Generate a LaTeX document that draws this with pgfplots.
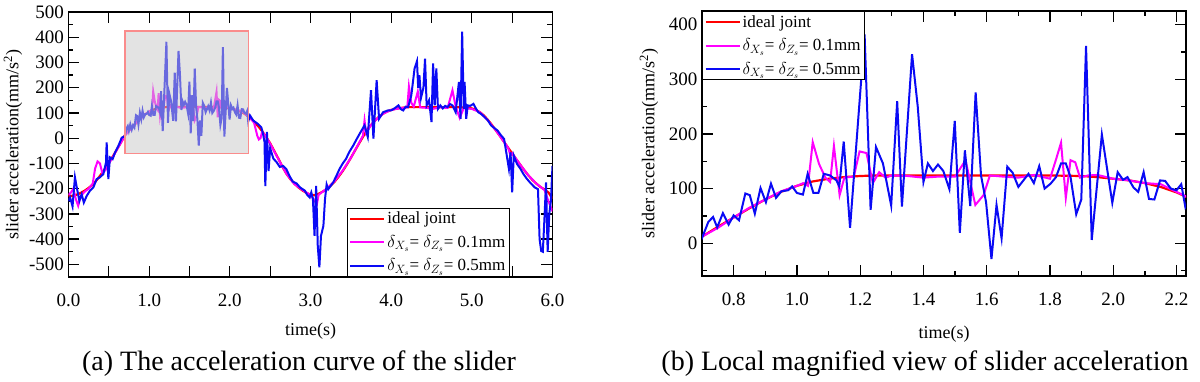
\documentclass[border=0pt]{standalone}
\usepackage{pgfplots}
\pgfplotsset{compat=1.18}
\usepackage{pgfplotstable}
\usepackage{fontspec}
\setmainfont{Liberation Serif}

\definecolor{idealred}{RGB}{255,0,0}
\definecolor{magline}{RGB}{255,0,255}
\definecolor{blueline}{RGB}{10,10,245}
\definecolor{boxedge}{RGB}{250,140,140}
\definecolor{boxfill}{RGB}{200,200,200}

\pgfplotstableread{
t v
0.00 -230
0.05 -228
0.10 -224
0.15 -217
0.20 -208
0.25 -197
0.30 -184
0.35 -166
0.40 -145
0.45 -122
0.50 -98
0.55 -72
0.60 -45
0.65 -17
0.70 12
0.75 30
0.80 47
0.85 64
0.90 80
0.95 94
1.00 105
1.05 113
1.10 118
1.15 121
1.20 123
1.25 124
1.30 124
1.40 124
1.50 124
1.60 124
1.70 124
1.80 124
1.90 123
1.95 121
2.00 118
2.05 115
2.10 110
2.15 103
2.20 93
2.25 80
2.30 65
2.35 48
2.40 28
2.45 5
2.50 -20
2.55 -50
2.60 -80
2.65 -112
2.70 -140
2.75 -162
2.80 -180
2.85 -195
2.90 -207
2.95 -217
3.00 -224
3.05 -226
3.10 -220
3.15 -212
3.20 -202
3.25 -188
3.30 -172
3.35 -152
3.40 -130
3.45 -105
3.50 -78
3.55 -50
3.60 -22
3.65 5
3.70 32
3.75 52
3.80 70
3.85 85
3.90 97
3.95 106
4.00 112
4.05 116
4.10 119
4.15 121
4.20 123
4.40 123
4.60 123
4.80 123
4.95 121
5.00 118
5.05 112
5.10 103
5.15 90
5.20 72
5.25 52
5.30 30
5.35 8
5.40 -15
5.45 -38
5.50 -60
5.55 -83
5.60 -105
5.65 -127
5.70 -147
5.75 -165
5.80 -180
5.85 -193
5.90 -203
5.95 -215
6.00 -240
}\idealtab

\pgfplotstableread{
t v
0.00 -225
0.03 -215
0.06 -200
0.09 -240
0.12 -268
0.15 -230
0.20 -212
0.25 -200
0.30 -180
0.33 -120
0.36 -92
0.39 -100
0.42 -140
0.46 -125
0.50 -100
0.55 -75
0.60 -45
0.65 -18
0.70 12
0.75 28
0.80 47
0.85 65
0.90 80
0.95 95
1.00 105
1.02 110
1.035 105
1.05 185
1.07 145
1.09 120
1.105 112
1.117 178
1.135 88
1.15 120
1.18 122
1.198 168
1.22 165
1.24 110
1.26 130
1.28 120
1.30 124
1.35 123
1.40 120
1.45 122
1.50 122
1.533 152
1.564 70
1.59 88
1.61 124
1.65 122
1.70 120
1.75 125
1.80 118
1.82 155
1.835 184
1.85 83
1.865 152
1.88 148
1.895 120
1.92 124
1.95 125
2.00 118
2.05 115
2.10 110
2.15 108
2.20 94
2.25 80
2.30 62
2.34 10
2.36 -5
2.38 0
2.40 25
2.45 5
2.50 -22
2.60 -82
2.70 -140
2.80 -182
2.90 -205
3.00 -225
3.05 -248
3.08 -260
3.10 -225
3.15 -212
3.20 -200
3.30 -170
3.40 -128
3.50 -78
3.60 -20
3.65 10
3.67 70
3.69 20
3.75 52
3.80 70
3.90 97
4.00 112
4.10 118
4.20 122
4.22 205
4.25 140
4.28 125
4.33 185
4.36 122
4.45 120
4.50 115
4.60 122
4.70 120
4.76 190
4.80 125
4.85 80
4.90 120
5.00 116
5.10 103
5.20 70
5.30 30
5.40 -15
5.45 -38
5.48 -70
5.50 -60
5.60 -105
5.70 -147
5.80 -180
5.90 -205
5.95 -250
6.00 -290
}\magtab

\pgfplotstableread{
t v
0.00 -250
0.02 -235
0.05 -270
0.08 -155
0.11 -208
0.135 -248
0.163 -222
0.19 -255
0.225 -229
0.266 -208
0.308 -195
0.349 -162
0.39 -155
0.432 -142
0.465 -96
0.473 -17
0.494 -162
0.514 -76
0.547 -83
0.576 -57
0.618 -31
0.66 2
0.699 8
0.72 39
0.735 48
0.748 29
0.766 55
0.784 34
0.80 51
0.817 42
0.837 91
0.851 88
0.867 54
0.885 101
0.902 75
0.918 109
0.934 83
0.951 95
0.973 97
0.985 104
1.00 92
1.019 89
1.034 127
1.052 92
1.068 92
1.085 127
1.105 124
1.125 115
1.134 104
1.148 186
1.168 28
1.214 382
1.233 61
1.25 176
1.272 146
1.298 69
1.317 260
1.332 67
1.364 346
1.382 250
1.40 112
1.414 146
1.43 132
1.446 144
1.463 132
1.482 99
1.499 224
1.515 19
1.531 170
1.548 68
1.565 276
1.582 124
1.598 75
1.615 -29
1.631 70
1.647 9
1.665 140
1.682 129
1.70 103
1.716 115
1.732 127
1.749 110
1.766 141
1.783 100
1.802 109
1.819 121
1.835 146
1.85 146
1.865 121
1.883 53
1.899 80
1.914 361
1.932 6
1.964 199
1.997 74
2.014 130
2.031 116
2.045 121
2.064 102
2.079 94
2.096 130
2.113 81
2.130 80
2.148 115
2.164 114
2.182 100
2.20 97
2.215 108
2.228 66
2.25 90
2.29 70
2.35 56
2.39 43
2.41 20
2.43 -15
2.44 -190
2.46 25
2.48 -130
2.50 -40
2.54 -81
2.58 -95
2.62 -114
2.66 -110
2.70 -122
2.74 -150
2.78 -172
2.83 -180
2.87 -195
2.93 -208
2.96 -225
2.99 -235
3.01 -215
3.03 -240
3.05 -387
3.07 -189
3.09 -426
3.11 -512
3.13 -387
3.16 -347
3.18 -241
3.20 -183
3.22 -202
3.28 -176
3.32 -150
3.36 -122
3.40 -100
3.44 -82
3.48 -55
3.53 -29
3.57 -5
3.61 18
3.65 40
3.67 51
3.71 5
3.75 190
3.78 -2
3.82 230
3.85 77
3.90 103
3.96 110
4.00 110
4.05 120
4.09 130
4.12 115
4.15 110
4.18 125
4.21 123
4.25 170
4.29 276
4.32 305
4.335 200
4.35 250
4.37 160
4.40 200
4.42 315
4.44 130
4.47 150
4.50 64
4.52 296
4.54 130
4.56 276
4.58 116
4.61 130
4.64 118
4.67 128
4.70 123
4.73 135
4.76 130
4.80 103
4.84 223
4.86 77
4.88 422
4.90 116
4.91 223
4.93 77
4.95 130
4.98 128
5.02 136
5.05 118
5.08 103
5.12 95
5.16 83
5.20 70
5.24 50
5.28 40
5.32 30
5.36 12
5.40 -3
5.44 -82
5.46 -122
5.48 -56
5.50 -215
5.52 -69
5.56 -102
5.60 -120
5.64 -142
5.68 -160
5.72 -175
5.78 -195
5.82 -202
5.84 -400
5.86 -447
5.88 -450
5.90 -320
5.92 -175
5.94 -450
5.96 -300
5.98 -250
6.00 -110
}\bluetab

\pgfplotsset{
  myaxis/.style={
    scale only axis,
    axis line style={line width=1.6pt},
    every tick/.style={line width=1.3pt, black},
    tick align=inside,
    major tick length=11pt,
    minor tick length=5pt,
    tick label style={font=\fontsize{19}{19}\selectfont},
    label style={font=\fontsize{18}{18}\selectfont},
    xticklabel style={yshift=-13pt},
    yticklabel style={xshift=-1pt},
    legend cell align=left,
    legend style={draw=black, line width=1.2pt, fill=white,
      font=\fontsize{17}{19}\selectfont, inner sep=2pt, row sep=6pt},
    legend image code/.code={\draw[#1, line width=2pt] (0pt,0pt) -- (34pt,0pt);},
    clip=true,
  },
  ideal/.style={idealred, line width=2.2pt},
  mag/.style={magline, line width=2pt},
  blu/.style={blueline, line width=2pt},
}

\begin{document}
\begin{tikzpicture}
\useasboundingbox (0,0) rectangle (1200pt,381pt);

% (a) full curve
\begin{axis}[myaxis,
  at={(68.5pt,104pt)}, anchor=south west,
  width=484pt, height=265pt,
  xmin=0, xmax=6, ymin=-550, ymax=500,
  xtick={0,0.5,1,1.5,2,2.5,3,3.5,4,4.5,5,5.5,6},
  xticklabels={0.0,{},1.0,{},2.0,{},3.0,{},4.0,{},5.0,{},6.0},
  ytick={-500,-400,-300,-200,-100,0,100,200,300,400,500},
  yticklabels={-500,-400,-300,-200,-100,0,100,200,300,400,500},
  minor ytick={-450,-350,-250,-150,-50,50,150,250,350,450},
  xlabel={time(s)},
  ylabel={slider acceleration(mm/s\textsuperscript{2})},
  xlabel style={yshift=-10pt},
  legend style={at={(rel axis cs:0.575,0)}, anchor=south west},
]
\addplot[ideal] table[x=t,y=v] {\idealtab};
\addlegendentry{ideal joint}
\addplot[mag] table[x=t,y=v] {\magtab};
\addlegendentry{$\delta_{X_s}$= $\delta_{Z_s}$= 0.1mm}
\addplot[blu] table[x=t,y=v] {\bluetab};
\addlegendentry{$\delta_{X_s}$= $\delta_{Z_s}$= 0.5mm}
\addplot[draw=boxedge, line width=1.5pt, fill=boxfill, fill opacity=0.5, forget plot]
  coordinates {(0.7,-60) (2.23,-60) (2.23,425) (0.7,425)} -- cycle;
\end{axis}

% (b) magnified view
\begin{axis}[myaxis,
  at={(702pt,105pt)}, anchor=south west,
  width=484pt, height=265pt,
  xmin=0.7, xmax=2.23, ymin=-60, ymax=425,
  xtick={0.8,1.0,1.2,1.4,1.6,1.8,2.0,2.2},
  xticklabels={0.8,1.0,1.2,1.4,1.6,1.8,2.0,2.2},
  minor xtick={0.9,1.1,1.3,1.5,1.7,1.9,2.1},
  ytick={0,100,200,300,400},
  yticklabels={0,100,200,300,400},
  minor ytick={-50,50,150,250,350},
  xlabel={time(s)},
  ylabel={slider acceleration(mm/s\textsuperscript{2})},
  xlabel style={yshift=-14pt},
  ylabel style={yshift=4pt},
  legend style={at={(rel axis cs:0,1)}, anchor=north west},
]
\addplot[ideal] table[x=t,y=v] {\idealtab};
\addlegendentry{ideal joint}
\addplot[mag] table[x=t,y=v] {\magtab};
\addlegendentry{$\delta_{X_s}$= $\delta_{Z_s}$= 0.1mm}
\addplot[blu] table[x=t,y=v] {\bluetab};
\addlegendentry{$\delta_{X_s}$= $\delta_{Z_s}$= 0.5mm}
\end{axis}

\node[font=\fontsize{28}{28}\selectfont] at (299pt,17pt) {(a) The acceleration curve of the slider};
\node[font=\fontsize{28}{28}\selectfont] at (925pt,17pt) {(b) Local magnified view of slider acceleration};
\end{tikzpicture}
\end{document}
